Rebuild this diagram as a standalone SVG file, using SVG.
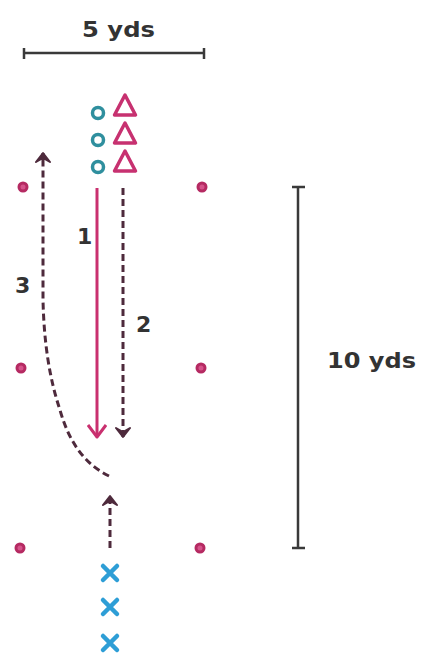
<svg xmlns="http://www.w3.org/2000/svg" width="422" height="656" viewBox="0 0 422 656">
  <style>
    .label { font-family: "DejaVu Sans", "Liberation Sans", sans-serif; font-weight: bold; fill: #333333; }
    .scale { stroke: #3a3a3a; stroke-width: 2.5; fill: none; }
    .cone { fill: #d6538a; stroke: #b52a62; stroke-width: 3; }
    .ring { fill: none; stroke: #2f8f9e; stroke-width: 3.5; }
    .tri { fill: none; stroke: #c73170; stroke-width: 3.5; stroke-linejoin: round; }
    .cross { stroke: #2e9ed6; stroke-width: 4.5; stroke-linecap: round; }
    .run { fill: none; stroke: #c9306f; stroke-width: 3; }
    .dash { fill: none; stroke: #4e2a3c; stroke-width: 3; stroke-dasharray: 7 4; }
  </style>
  <defs>
    <!-- arrowheads drawn pointing along +x so orient="auto" follows the path -->
    <marker id="openHead" viewBox="0 0 20 20" refX="18" refY="10" markerWidth="20" markerHeight="20" markerUnits="userSpaceOnUse" orient="auto">
      <path d="M6,1 L18,10 L6,19" fill="none" stroke="#c9306f" stroke-width="3" stroke-linejoin="round"/>
    </marker>
    <marker id="notchHead" viewBox="0 0 16 16" refX="14" refY="8" markerWidth="16" markerHeight="16" markerUnits="userSpaceOnUse" orient="auto">
      <path d="M5,1 L14,8 L5,15 L9,8 Z" fill="#4e2a3c" stroke="#4e2a3c" stroke-width="2" stroke-linejoin="round"/>
    </marker>
  </defs>

  <!-- scale bars -->
  <g id="scale-5yds">
    <path class="scale" d="M24,53 H204 M24,48 V59 M204,48 V59"/>
    <text class="label" x="82" y="37" font-size="22" textLength="73" lengthAdjust="spacingAndGlyphs">5 yds</text>
  </g>
  <g id="scale-10yds">
    <path class="scale" d="M298,187 V548 M292,187 H305 M292,548 H305" stroke-width="3"/>
    <text class="label" x="327" y="368" font-size="22" textLength="89" lengthAdjust="spacingAndGlyphs">10 yds</text>
  </g>

  <!-- field cones -->
  <g id="cones">
    <circle class="cone" cx="23" cy="187" r="4"/>
    <circle class="cone" cx="202" cy="187" r="4"/>
    <circle class="cone" cx="21" cy="368" r="4"/>
    <circle class="cone" cx="201" cy="368" r="4"/>
    <circle class="cone" cx="20" cy="548" r="4"/>
    <circle class="cone" cx="200" cy="548" r="4"/>
  </g>

  <!-- players -->
  <g id="circles">
    <circle class="ring" cx="98" cy="113" r="5.5"/>
    <circle class="ring" cx="98" cy="140" r="5.5"/>
    <circle class="ring" cx="98" cy="167" r="5.5"/>
  </g>
  <g id="triangles">
    <path class="tri" d="M125,95 L135.5,115 L114.5,115 Z"/>
    <path class="tri" d="M125,123 L135.5,143 L114.5,143 Z"/>
    <path class="tri" d="M125,151 L135.5,171 L114.5,171 Z"/>
  </g>
  <g id="crosses">
    <path class="cross" d="M103,566 L117,580 M117,566 L103,580"/>
    <path class="cross" d="M103,600 L117,614 M117,600 L103,614"/>
    <path class="cross" d="M103,636 L117,650 M117,636 L103,650"/>
  </g>

  <!-- runs -->
  <g id="connectors">
    <path id="run-1" class="run" d="M97,188 V437" marker-end="url(#openHead)"/>
    <path id="run-2" class="dash" d="M123,188 V437" marker-end="url(#notchHead)"/>
    <path id="run-3" class="dash" d="M109,476 C88,466 70,446 60,410 C50,380 44,345 43,300 V153" marker-end="url(#notchHead)"/>
    <path id="run-4" class="dash" d="M110,548 V496" marker-end="url(#notchHead)"/>
  </g>

  <!-- run numbers -->
  <g id="labels">
    <text class="label" x="77" y="244" font-size="22">1</text>
    <text class="label" x="136" y="332" font-size="22">2</text>
    <text class="label" x="15" y="293" font-size="22">3</text>
  </g>
</svg>
